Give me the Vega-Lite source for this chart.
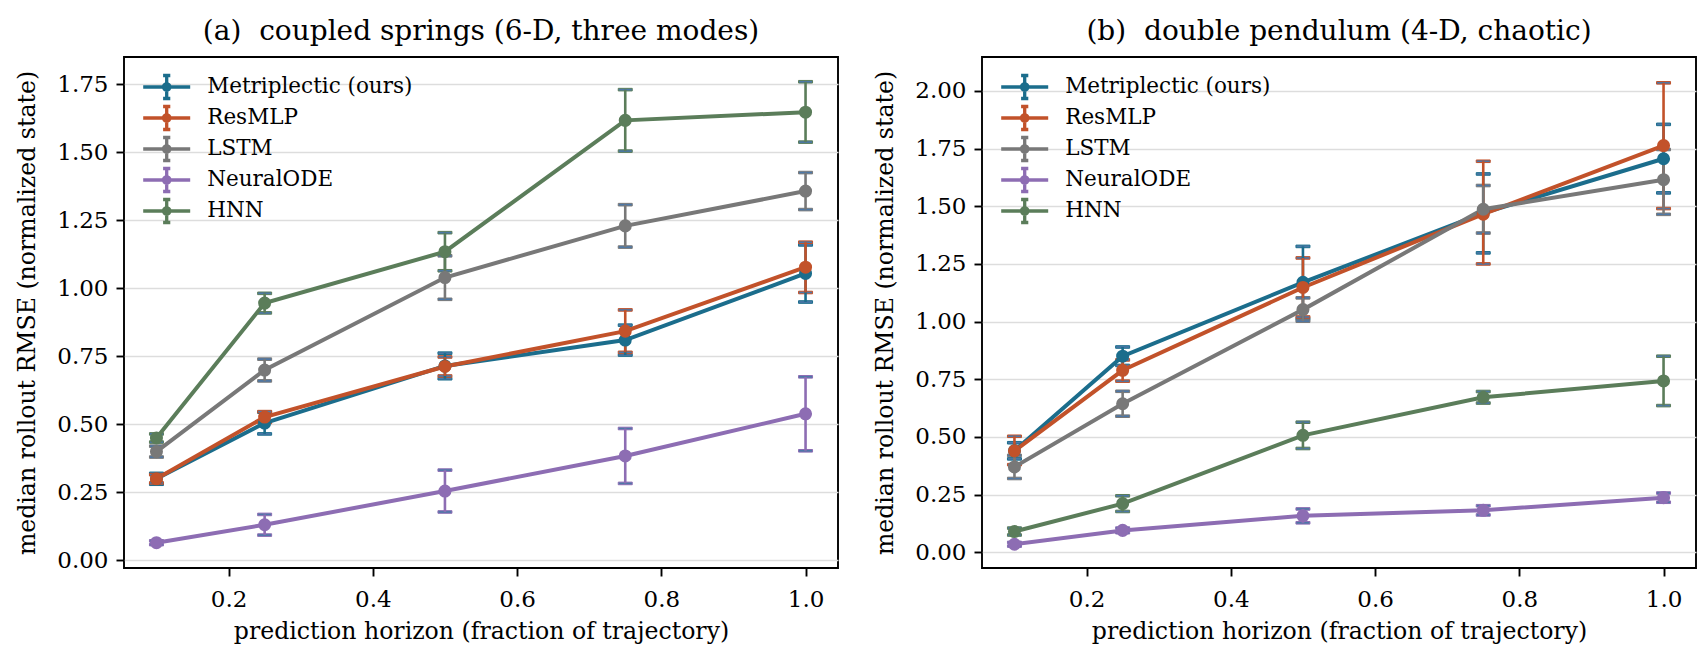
{
  "$schema": "https://vega.github.io/schema/vega-lite/v6.json",
  "padding": {"left": 14, "top": 17, "right": 0, "bottom": 0},
  "spacing": 33,
  "config": {
    "font": "DejaVu Serif",
    "view": {"stroke": "black", "strokeWidth": 1.9},
    "tick": {"opacity": 1},
    "rule": {"opacity": 1},
    "axis": {
      "domain": false, "tickColor": "black", "tickSize": 8, "tickWidth": 1.9,
      "labelFontSize": 23, "titleFontSize": 23.6, "labelColor": "black", "titleColor": "black",
      "titleFontWeight": "normal", "gridColor": "#dddddd", "gridWidth": 1.5, "labelPadding": 8
    },
    "axisX": {"grid": false, "titlePadding": 8, "labelPadding": 12},
    "axisY": {"titlePadding": 17},
    "title": {"fontSize": 28, "fontWeight": "normal", "offset": 11, "color": "black"},
    "legend": {
      "title": null, "orient": "none", "legendX": 30.7, "legendY": 18, "padding": 0,
      "symbolType": "M-2.35,0H2.35M0,-1.15V1.15M-0.36,-1.15H0.36M-0.36,1.15H0.36M-0.32,0A0.32,0.32 0 1,0 0.32,0A0.32,0.32 0 1,0 -0.32,0Z",
      "symbolSize": 400, "symbolStrokeWidth": 3.3, "labelOffset": 28.5, "labelFontSize": 21.5,
      "labelLimit": 400, "rowPadding": -14.1, "labelColor": "black", "symbolOpacity": 1
    }
  },
  "data": {
    "values": [
      {"panel": "a", "model": "Metriplectic (ours)", "h": 0.1, "rmse": 0.30, "lo": 0.28, "hi": 0.32},
      {"panel": "a", "model": "Metriplectic (ours)", "h": 0.25, "rmse": 0.505, "lo": 0.465, "hi": 0.545},
      {"panel": "a", "model": "Metriplectic (ours)", "h": 0.5, "rmse": 0.715, "lo": 0.668, "hi": 0.762},
      {"panel": "a", "model": "Metriplectic (ours)", "h": 0.75, "rmse": 0.81, "lo": 0.755, "hi": 0.865},
      {"panel": "a", "model": "Metriplectic (ours)", "h": 1.0, "rmse": 1.055, "lo": 0.95, "hi": 1.16},
      {"panel": "a", "model": "ResMLP", "h": 0.1, "rmse": 0.30, "lo": 0.285, "hi": 0.315},
      {"panel": "a", "model": "ResMLP", "h": 0.25, "rmse": 0.527, "lo": 0.507, "hi": 0.547},
      {"panel": "a", "model": "ResMLP", "h": 0.5, "rmse": 0.713, "lo": 0.678, "hi": 0.748},
      {"panel": "a", "model": "ResMLP", "h": 0.75, "rmse": 0.843, "lo": 0.765, "hi": 0.921},
      {"panel": "a", "model": "ResMLP", "h": 1.0, "rmse": 1.078, "lo": 0.985, "hi": 1.17},
      {"panel": "a", "model": "LSTM", "h": 0.1, "rmse": 0.40, "lo": 0.38, "hi": 0.42},
      {"panel": "a", "model": "LSTM", "h": 0.25, "rmse": 0.70, "lo": 0.66, "hi": 0.74},
      {"panel": "a", "model": "LSTM", "h": 0.5, "rmse": 1.04, "lo": 0.96, "hi": 1.12},
      {"panel": "a", "model": "LSTM", "h": 0.75, "rmse": 1.23, "lo": 1.152, "hi": 1.308},
      {"panel": "a", "model": "LSTM", "h": 1.0, "rmse": 1.358, "lo": 1.29, "hi": 1.426},
      {"panel": "a", "model": "NeuralODE", "h": 0.1, "rmse": 0.065, "lo": 0.058, "hi": 0.072},
      {"panel": "a", "model": "NeuralODE", "h": 0.25, "rmse": 0.131, "lo": 0.093, "hi": 0.169},
      {"panel": "a", "model": "NeuralODE", "h": 0.5, "rmse": 0.255, "lo": 0.178, "hi": 0.332},
      {"panel": "a", "model": "NeuralODE", "h": 0.75, "rmse": 0.384, "lo": 0.283, "hi": 0.485},
      {"panel": "a", "model": "NeuralODE", "h": 1.0, "rmse": 0.539, "lo": 0.403, "hi": 0.675},
      {"panel": "a", "model": "HNN", "h": 0.1, "rmse": 0.45, "lo": 0.435, "hi": 0.465},
      {"panel": "a", "model": "HNN", "h": 0.25, "rmse": 0.946, "lo": 0.91, "hi": 0.982},
      {"panel": "a", "model": "HNN", "h": 0.5, "rmse": 1.135, "lo": 1.065, "hi": 1.205},
      {"panel": "a", "model": "HNN", "h": 0.75, "rmse": 1.618, "lo": 1.505, "hi": 1.731},
      {"panel": "a", "model": "HNN", "h": 1.0, "rmse": 1.648, "lo": 1.538, "hi": 1.76},
      {"panel": "b", "model": "Metriplectic (ours)", "h": 0.1, "rmse": 0.44, "lo": 0.405, "hi": 0.475},
      {"panel": "b", "model": "Metriplectic (ours)", "h": 0.25, "rmse": 0.85, "lo": 0.81, "hi": 0.89},
      {"panel": "b", "model": "Metriplectic (ours)", "h": 0.5, "rmse": 1.17, "lo": 1.012, "hi": 1.326},
      {"panel": "b", "model": "Metriplectic (ours)", "h": 0.75, "rmse": 1.47, "lo": 1.298, "hi": 1.64},
      {"panel": "b", "model": "Metriplectic (ours)", "h": 1.0, "rmse": 1.706, "lo": 1.558, "hi": 1.855},
      {"panel": "b", "model": "ResMLP", "h": 0.1, "rmse": 0.44, "lo": 0.38, "hi": 0.503},
      {"panel": "b", "model": "ResMLP", "h": 0.25, "rmse": 0.789, "lo": 0.742, "hi": 0.834},
      {"panel": "b", "model": "ResMLP", "h": 0.5, "rmse": 1.148, "lo": 1.02, "hi": 1.276},
      {"panel": "b", "model": "ResMLP", "h": 0.75, "rmse": 1.466, "lo": 1.25, "hi": 1.695},
      {"panel": "b", "model": "ResMLP", "h": 1.0, "rmse": 1.763, "lo": 1.49, "hi": 2.035},
      {"panel": "b", "model": "LSTM", "h": 0.1, "rmse": 0.37, "lo": 0.32, "hi": 0.42},
      {"panel": "b", "model": "LSTM", "h": 0.25, "rmse": 0.644, "lo": 0.59, "hi": 0.698},
      {"panel": "b", "model": "LSTM", "h": 0.5, "rmse": 1.052, "lo": 1.002, "hi": 1.103},
      {"panel": "b", "model": "LSTM", "h": 0.75, "rmse": 1.487, "lo": 1.384, "hi": 1.59},
      {"panel": "b", "model": "LSTM", "h": 1.0, "rmse": 1.615, "lo": 1.465, "hi": 1.746},
      {"panel": "b", "model": "NeuralODE", "h": 0.1, "rmse": 0.035, "lo": 0.027, "hi": 0.043},
      {"panel": "b", "model": "NeuralODE", "h": 0.25, "rmse": 0.095, "lo": 0.085, "hi": 0.105},
      {"panel": "b", "model": "NeuralODE", "h": 0.5, "rmse": 0.158, "lo": 0.128, "hi": 0.188},
      {"panel": "b", "model": "NeuralODE", "h": 0.75, "rmse": 0.182, "lo": 0.162, "hi": 0.202},
      {"panel": "b", "model": "NeuralODE", "h": 1.0, "rmse": 0.237, "lo": 0.217, "hi": 0.257},
      {"panel": "b", "model": "HNN", "h": 0.1, "rmse": 0.09, "lo": 0.075, "hi": 0.105},
      {"panel": "b", "model": "HNN", "h": 0.25, "rmse": 0.211, "lo": 0.177, "hi": 0.245},
      {"panel": "b", "model": "HNN", "h": 0.5, "rmse": 0.507, "lo": 0.45, "hi": 0.564},
      {"panel": "b", "model": "HNN", "h": 0.75, "rmse": 0.672, "lo": 0.647, "hi": 0.697},
      {"panel": "b", "model": "HNN", "h": 1.0, "rmse": 0.743, "lo": 0.636, "hi": 0.85}
    ]
  },
  "resolve": {
    "scale": {"stroke": "independent", "fill": "independent", "y": "independent"},
    "legend": {"stroke": "independent", "fill": "independent"}
  },
  "hconcat": [
    {
      "width": 714, "height": 511,
      "title": "(a)\u00a0 coupled springs (6-D, three modes)",
      "transform": [{"filter": "datum.panel == 'a'"}],
      "encoding": {
        "x": {"field": "h", "type": "quantitative", "title": "prediction horizon (fraction of trajectory)",
              "scale": {"domain": [0.055, 1.045], "nice": false, "zero": false},
              "axis": {"values": [0.2, 0.4, 0.6, 0.8, 1.0], "format": ".1f"}},
        "stroke": {"field": "model", "type": "nominal",
                   "scale": {"domain": ["Metriplectic (ours)", "ResMLP", "LSTM", "NeuralODE", "HNN"],
                             "range": ["#1b6d8c", "#c2522a", "#787878", "#8d6db3", "#5b7d5a"]}}
      },
      "layer": [
        {
          "mark": {"type": "errorbar", "ticks": true, "size": 14, "thickness": 2.6, "opacity": 1},
          "encoding": {
            "y": {"field": "lo", "type": "quantitative", "title": "median rollout RMSE (normalized state)",
                  "scale": {"domain": [-0.028, 1.851], "nice": false, "zero": false},
                  "axis": {"values": [0, 0.25, 0.5, 0.75, 1.0, 1.25, 1.5, 1.75], "format": ".2f"}},
            "y2": {"field": "hi"}
          }
        },
        {
          "mark": {"type": "line", "strokeWidth": 4},
          "encoding": {
            "y": {"field": "rmse", "type": "quantitative"}
          }
        },
        {
          "mark": {"type": "point", "filled": true, "size": 170, "opacity": 1, "strokeWidth": 0},
          "encoding": {
            "y": {"field": "rmse", "type": "quantitative"},
            "fill": {"field": "model", "type": "nominal",
                     "scale": {"domain": ["Metriplectic (ours)", "ResMLP", "LSTM", "NeuralODE", "HNN"],
                               "range": ["#1b6d8c", "#c2522a", "#787878", "#8d6db3", "#5b7d5a"]}}
          }
        }
      ]
    },
    {
      "width": 714, "height": 511,
      "title": "(b)\u00a0 double pendulum (4-D, chaotic)",
      "transform": [{"filter": "datum.panel == 'b'"}],
      "encoding": {
        "x": {"field": "h", "type": "quantitative", "title": "prediction horizon (fraction of trajectory)",
              "scale": {"domain": [0.055, 1.045], "nice": false, "zero": false},
              "axis": {"values": [0.2, 0.4, 0.6, 0.8, 1.0], "format": ".1f"}},
        "stroke": {"field": "model", "type": "nominal",
                   "scale": {"domain": ["Metriplectic (ours)", "ResMLP", "LSTM", "NeuralODE", "HNN"],
                             "range": ["#1b6d8c", "#c2522a", "#787878", "#8d6db3", "#5b7d5a"]}}
      },
      "layer": [
        {
          "mark": {"type": "errorbar", "ticks": true, "size": 14, "thickness": 2.6, "opacity": 1},
          "encoding": {
            "y": {"field": "lo", "type": "quantitative", "title": "median rollout RMSE (normalized state)",
                  "scale": {"domain": [-0.068, 2.147], "nice": false, "zero": false},
                  "axis": {"values": [0, 0.25, 0.5, 0.75, 1.0, 1.25, 1.5, 1.75, 2.0], "format": ".2f"}},
            "y2": {"field": "hi"}
          }
        },
        {
          "mark": {"type": "line", "strokeWidth": 4},
          "encoding": {
            "y": {"field": "rmse", "type": "quantitative"}
          }
        },
        {
          "mark": {"type": "point", "filled": true, "size": 170, "opacity": 1, "strokeWidth": 0},
          "encoding": {
            "y": {"field": "rmse", "type": "quantitative"},
            "fill": {"field": "model", "type": "nominal",
                     "scale": {"domain": ["Metriplectic (ours)", "ResMLP", "LSTM", "NeuralODE", "HNN"],
                               "range": ["#1b6d8c", "#c2522a", "#787878", "#8d6db3", "#5b7d5a"]}}
          }
        }
      ]
    }
  ]
}
